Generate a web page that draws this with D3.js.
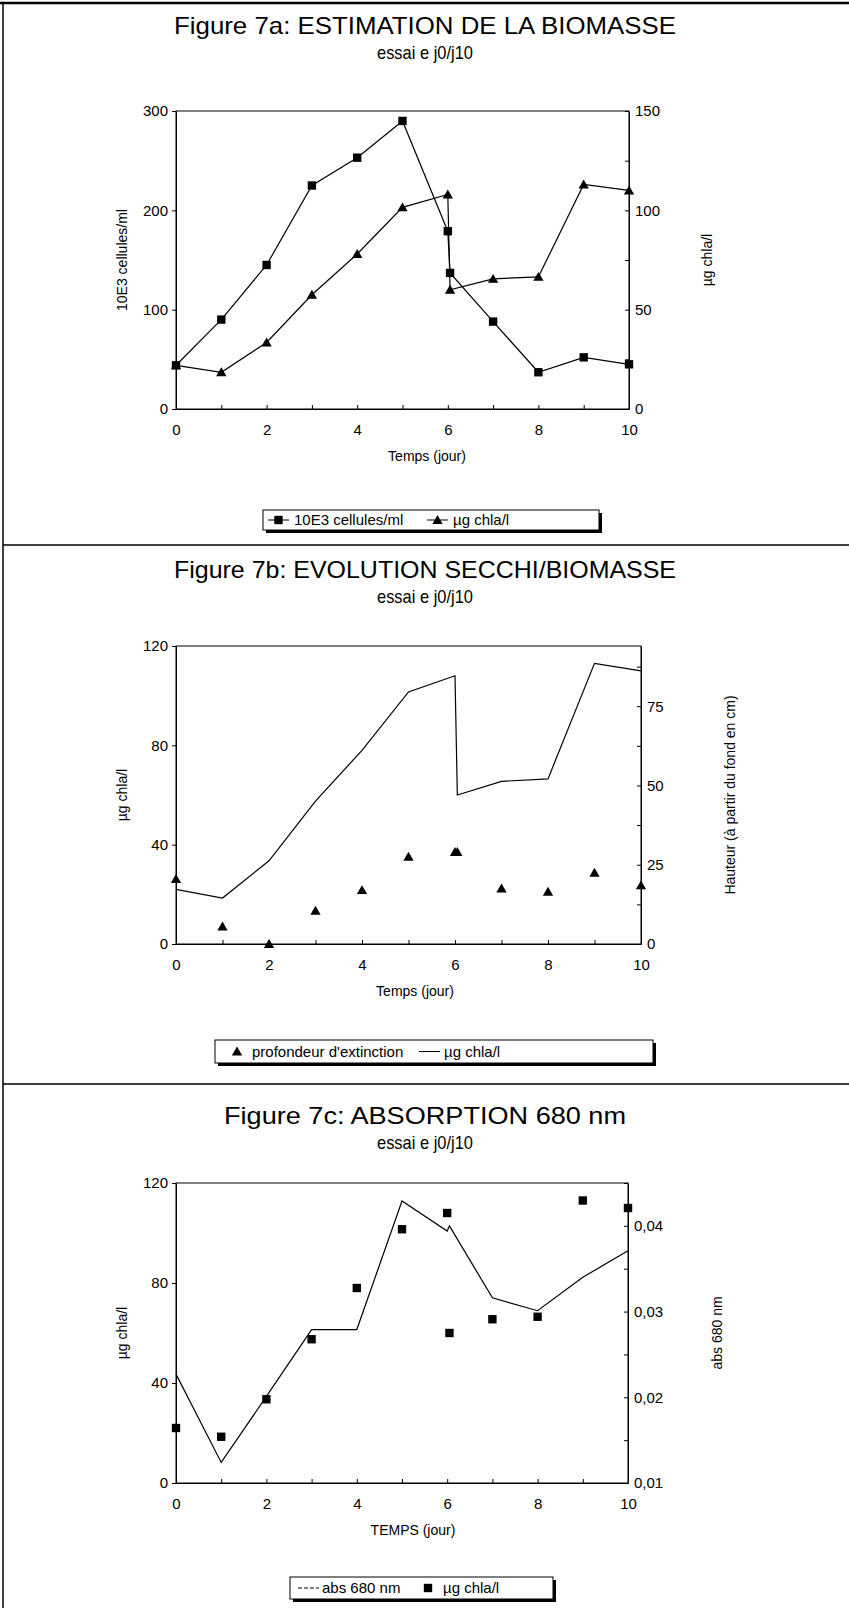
<!DOCTYPE html>
<html>
<head>
<meta charset="utf-8">
<script src="https://cdn.jsdelivr.net/npm/d3@7"></script>
<style>
	body { margin: 0; background: #fff; }
	svg { display: block; font-family: "Liberation Sans", Arial, sans-serif; }
	.axis path, .axis line { stroke: #000; }
	.axis text { font-size: 15px; fill: #000; }
</style>
</head>
<body>
<div id="figure"></div>
<script>

var jours = [0, 1, 2, 3, 4, 5, 6, 6.05, 7, 8, 9, 10];
var cellules = [44, 90, 145, 225, 253, 290, 179, 137, 88, 37, 52, 45];
var chla = [22, 18.5, 33.5, 57.5, 78, 101.5, 108, 60, 65.5, 66.5, 113, 110];
var profondeur = [20.5, 5.5, 0, 10.5, 17, 27.5, 29, 29, 17.5, 16.5, 22.5, 18.5];
var abs680 = [0.0227, 0.0124, 0.0201, 0.0279, 0.0279, 0.0429, 0.0394, 0.0400, 0.0316, 0.0301, 0.0340, 0.0371];

var xTicks = [0, 1, 2, 3, 4, 5, 6, 7, 8, 9, 10];
var leftTicksA = [0, 100, 200, 300];
var rightTicksA = [0, 25, 50, 75, 100, 125, 150];
var leftTicksB = [0, 40, 80, 120];
var rightTicksB = [0, 12.5, 25, 37.5, 50, 62.5, 75, 87.5];
var rightTicksC = [0.01, 0.015, 0.02, 0.025, 0.03, 0.035, 0.04, 0.045];

var W = 849, H = 1608;
var comma = d3.formatLocale({decimal: ",", thousands: " ", grouping: [3], currency: ["", ""]}).format(".2f");

var svg = d3.select("#figure")
	.append("svg")
		.attr("width", W)
		.attr("height", H);

// cadre general et separations
svg.append("g")
	.attr("stroke", "#000")
	.selectAll("line")
	.data([[0, 3, W, 3, 2.5], [3, 3, 3, H, 1.5], [3, 545, W, 545, 1.5], [3, 1084, W, 1084, 1.5]])
	.enter().append("line")
		.attr("x1", function(d) { return d[0]; })
		.attr("y1", function(d) { return d[1]; })
		.attr("x2", function(d) { return d[2]; })
		.attr("y2", function(d) { return d[3]; })
		.attr("stroke-width", function(d) { return d[4]; });


function marker(g, type, x, y) {
	var sym = type == "square" ? d3.symbolSquare : d3.symbolTriangle;
	var size = type == "square" ? 70 : 46;
	g.append("path")
		.attr("d", d3.symbol().type(sym).size(size)())
		.attr("transform", "translate(" + x + "," + (type == "square" ? y : y + 1) + ")")
		.attr("fill", "#000");
}


function drawPanel(p) {

	var g = svg.append("g");

	g.append("text")
		.attr("x", 425).attr("y", p.titleY)
		.attr("text-anchor", "middle")
		.attr("font-size", 24)
		.attr("textLength", p.titleLen)
		.attr("lengthAdjust", "spacingAndGlyphs")
		.text(p.title);

	g.append("text")
		.attr("x", 425).attr("y", p.titleY + 25)
		.attr("text-anchor", "middle")
		.attr("font-size", 19)
		.attr("textLength", 96)
		.attr("lengthAdjust", "spacingAndGlyphs")
		.text("essai e j0/j10");

	var x = d3.scaleLinear().domain([0, 10]).range([p.left, p.right]);
	var yL = d3.scaleLinear().domain(p.leftDomain).range([p.bottom, p.top]);
	var yR = d3.scaleLinear().domain(p.rightDomain).range([p.bottom, p.top]);

	g.append("rect")
		.attr("x", p.left).attr("y", p.top)
		.attr("width", p.right - p.left).attr("height", p.bottom - p.top)
		.attr("fill", "none").attr("stroke", "#000");

	var xAxis = d3.axisBottom(x).tickValues(xTicks).tickSizeInner(-4).tickSizeOuter(0).tickPadding(15)
		.tickFormat(function(d) { return d % 2 == 0 ? d : ""; });
	var yAxisL = d3.axisLeft(yL).tickValues(p.leftTicks).tickSizeInner(4).tickSizeOuter(0).tickPadding(4);
	var yAxisR = d3.axisRight(yR).tickValues(p.rightTicks).tickSizeInner(-4).tickSizeOuter(0).tickPadding(6)
		.tickFormat(p.rightFormat);

	g.append("g").attr("class", "x axis")
		.attr("transform", "translate(0," + p.bottom + ")")
		.call(xAxis);

	g.append("g").attr("class", "y axis left")
		.attr("transform", "translate(" + p.left + ",0)")
		.call(yAxisL);

	g.append("g").attr("class", "y axis right")
		.attr("transform", "translate(" + p.right + ",0)")
		.call(yAxisR);

	g.append("text")
		.attr("x", p.xLabelX).attr("y", p.bottom + 52)
		.attr("text-anchor", "middle").attr("font-size", 14)
		.text(p.xLabel);

	g.append("text")
		.attr("transform", "translate(" + 127 + "," + ((p.top + p.bottom) / 2) + ") rotate(-90)")
		.attr("text-anchor", "middle").attr("font-size", 14)
		.text(p.leftLabel);

	g.append("text")
		.attr("transform", "translate(" + p.rightLabelX + "," + ((p.top + p.bottom) / 2) + ") rotate(-90)")
		.attr("text-anchor", "middle").attr("font-size", 14)
		.text(p.rightLabel);

	p.series.forEach(function(s) {
		var y = s.axis == "left" ? yL : yR;
		if(s.line) {
			g.append("path")
				.datum(s.values)
				.attr("fill", "none")
				.attr("stroke", "#000")
				.attr("stroke-width", 1.2)
				.attr("d", d3.line()
					.x(function(d, i) { return x(jours[i]); })
					.y(function(d) { return y(d); }));
		}
		if(s.marker) {
			s.values.forEach(function(v, i) { marker(g, s.marker, x(jours[i]), y(v)); });
		}
	});

	// legende avec ombre
	var lg = g.append("g");
	lg.append("rect")
		.attr("x", p.legend.x + 3).attr("y", p.legend.y + 3)
		.attr("width", p.legend.w).attr("height", p.legend.h)
		.attr("fill", "#000");
	lg.append("rect")
		.attr("x", p.legend.x).attr("y", p.legend.y)
		.attr("width", p.legend.w).attr("height", p.legend.h)
		.attr("fill", "#fff").attr("stroke", "#000");

	var cy = p.legend.y + p.legend.h / 2;
	p.legend.items.forEach(function(it) {
		if(it.line) {
			lg.append("line")
				.attr("x1", it.x).attr("x2", it.x + 21)
				.attr("y1", cy).attr("y2", cy)
				.attr("stroke", "#000")
				.attr("stroke-dasharray", it.dash || null);
		}
		if(it.marker) {
			marker(lg, it.marker, it.line ? it.x + 10.5 : it.x + 4, cy);
		}
		lg.append("text")
			.attr("x", it.tx).attr("y", cy + 5)
			.attr("font-size", 15)
			.text(it.label);
	});
}


drawPanel({
	title: "Figure  7a: ESTIMATION DE LA BIOMASSE", titleY: 34, titleLen: 502,
	left: 176, right: 629, top: 111, bottom: 409,
	leftDomain: [0, 300], leftTicks: leftTicksA,
	rightDomain: [0, 150], rightTicks: rightTicksA,
	rightFormat: function(d) { return d % 50 == 0 ? d : ""; },
	xLabel: "Temps (jour)", xLabelX: 427,
	leftLabel: "10E3 cellules/ml",
	rightLabel: "µg chla/l", rightLabelX: 712,
	series: [
		{values: cellules, axis: "left", line: true, marker: "square"},
		{values: chla, axis: "right", line: true, marker: "triangle"}
	],
	legend: {x: 263, y: 510, w: 336, h: 20, items: [
		{line: true, marker: "square", x: 268, tx: 294, label: "10E3 cellules/ml"},
		{line: true, marker: "triangle", x: 427, tx: 453, label: "µg chla/l"}
	]}
});

drawPanel({
	title: "Figure  7b: EVOLUTION SECCHI/BIOMASSE", titleY: 578, titleLen: 502,
	left: 176, right: 641, top: 646, bottom: 944,
	leftDomain: [0, 120], leftTicks: leftTicksB,
	rightDomain: [0, 94], rightTicks: rightTicksB,
	rightFormat: function(d) { return d % 25 == 0 ? d : ""; },
	xLabel: "Temps (jour)", xLabelX: 415,
	leftLabel: "µg chla/l",
	rightLabel: "Hauteur (à partir du fond en cm)", rightLabelX: 735,
	series: [
		{values: chla, axis: "left", line: true, marker: null},
		{values: profondeur, axis: "right", line: false, marker: "triangle"}
	],
	legend: {x: 215, y: 1040, w: 438, h: 23, items: [
		{line: false, marker: "triangle", x: 233, tx: 252, label: "profondeur d'extinction"},
		{line: true, marker: null, x: 419, tx: 444, label: "µg chla/l"}
	]}
});

drawPanel({
	title: "Figure  7c: ABSORPTION 680 nm", titleY: 1124, titleLen: 402,
	left: 176, right: 628, top: 1183, bottom: 1483,
	leftDomain: [0, 120], leftTicks: leftTicksB,
	rightDomain: [0.01, 0.045], rightTicks: rightTicksC,
	rightFormat: function(d) { return Math.round(d * 1000) % 10 == 0 ? comma(d) : ""; },
	xLabel: "TEMPS (jour)", xLabelX: 413,
	leftLabel: "µg chla/l",
	rightLabel: "abs 680 nm", rightLabelX: 722,
	series: [
		{values: abs680, axis: "right", line: true, marker: null},
		{values: chla, axis: "left", line: false, marker: "square"}
	],
	legend: {x: 290, y: 1577, w: 263, h: 22, items: [
		{line: true, marker: null, dash: "4,2", x: 298, tx: 322, label: "abs 680 nm"},
		{line: false, marker: "square", x: 424, tx: 443, label: "µg chla/l"}
	]}
});

</script>
</body>
</html>
